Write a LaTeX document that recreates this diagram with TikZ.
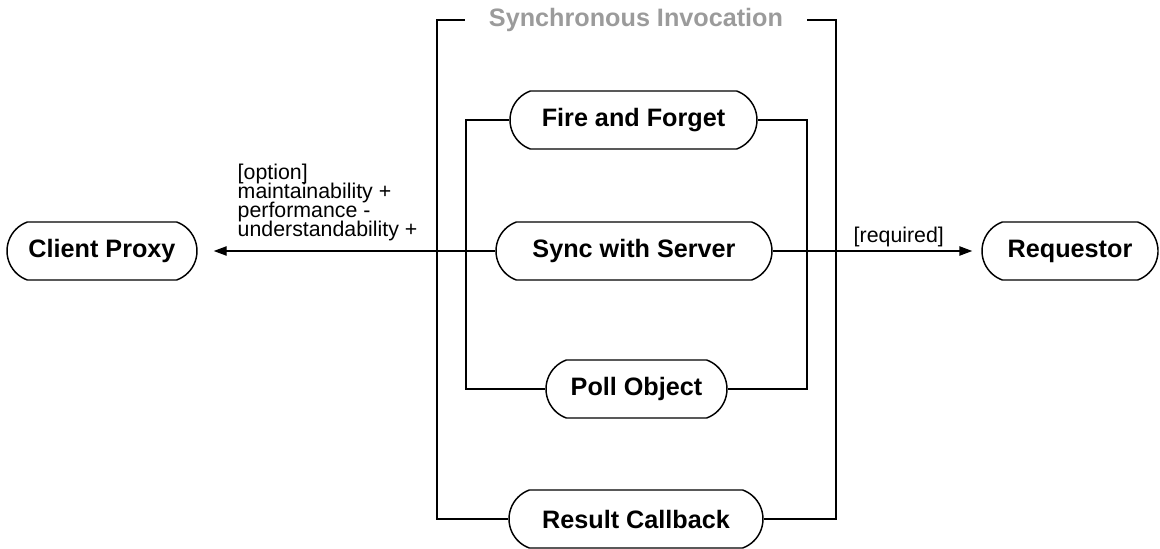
\documentclass[tikz,border=0pt]{standalone}
\usepackage{fontspec}
\setmainfont{Liberation Sans}
\usepackage{tikz}
\usetikzlibrary{shapes.misc,
	arrows.meta,
	positioning}
\definecolor{titlegray}{RGB}{155,155,155}
\newcommand{\tightlines}{\fontsize{16}{14.25}\selectfont\setlength{\lineskiplimit}{-20pt}}

\begin{document}
\begin{tikzpicture}[x=0.75pt,y=-0.75pt,line width=1.1pt,
	pnode/.style={draw, rounded rectangle, rounded rectangle arc length=140, minimum height=43.5pt, inner sep=0pt, font=\fontsize{18.9}{22}\selectfont\bfseries},
	lbl/.style={inner sep=0pt, align=left, font=\tightlines},
	arr/.style={-{Triangle[length=9.75pt,width=7pt]}}]
	\useasboundingbox (0,0) rectangle (1160,549);
	% patterns
	\node[pnode, minimum width=142.5pt] (proxy) at (102,251) {Client Proxy};
	\node[pnode, minimum width=207pt] (sync) at (634,251) {Sync with Server};
	\node[pnode, minimum width=132pt] (requestor) at (1070,251) {Requestor};
	\node[pnode, minimum width=185.25pt] (fire) at (633.5,120) {Fire and Forget};
	\node[pnode, minimum width=135.75pt] (poll) at (636.5,389) {Poll Object};
	\node[pnode, minimum width=190.5pt] (callback) at (636,519) {Result Callback};
	\node[inner ysep=0pt, inner xsep=17.6pt, text=titlegray, font=\fontsize{18.9}{22}\selectfont\bfseries] (title) at (636,20) {Synchronous Invocation};
	% brackets
	\coordinate (outerL) at (437,0);
	\coordinate (outerR) at (836,0);
	\coordinate (innerL) at (466,0);
	\coordinate (innerR) at (807,0);
	\draw (title.west) -| (callback.west -| outerL) -- (callback.west);
	\draw (title.east) -| (callback.east -| outerR) -- (callback.east);
	\draw (fire.west) -| (poll.west -| innerL) -- (poll.west);
	\draw (fire.east) -| (poll.east -| innerR) -- (poll.east);
	% relations
	\draw[arr, shorten >=12pt] (sync.west) -- (proxy.east);
	\draw[arr, shorten >=6.75pt] (sync.east) -- (requestor.west);
	\node[lbl, anchor=north west] (option) at (237,163) {{[option]}\\maintainability +\\performance -\\understandability +};
	\node[lbl, anchor=base west] (required) at (853,243) {[required]};
\end{tikzpicture}
\end{document}
